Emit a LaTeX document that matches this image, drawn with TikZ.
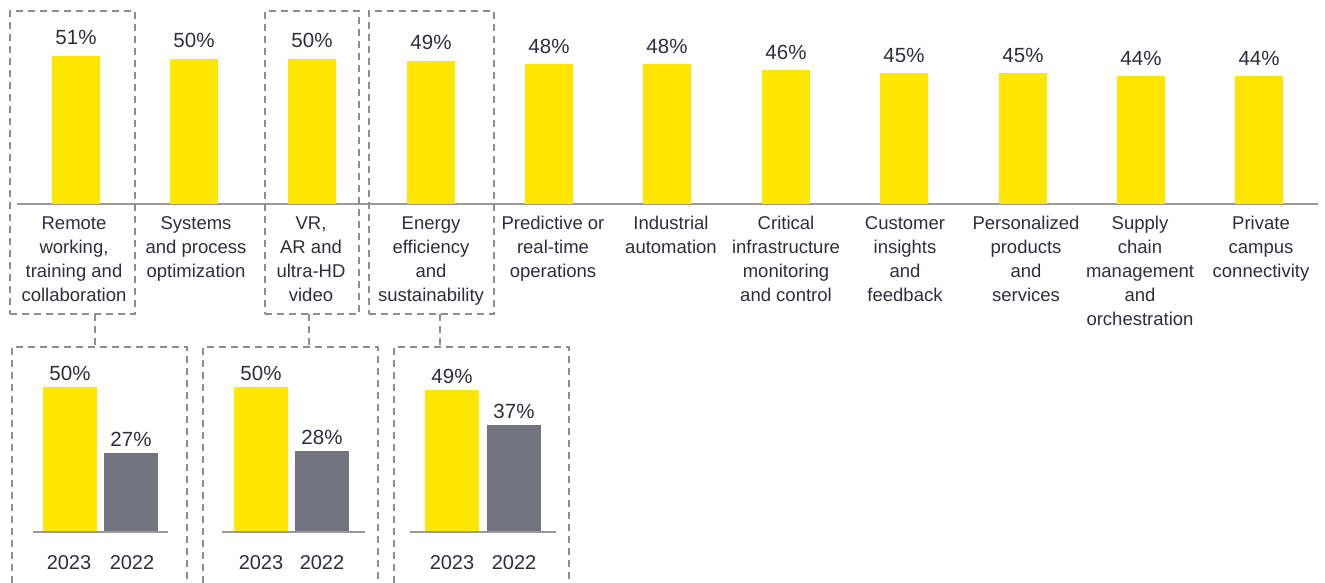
\documentclass[tikz,border=0pt]{standalone}
\usepackage{fontspec}
\setmainfont{Liberation Sans}
\definecolor{eyy}{HTML}{FFE600}
\definecolor{eyg}{HTML}{747480}
\definecolor{eyt}{HTML}{2E2E38}
\definecolor{eyl}{HTML}{9A9A9A}
\definecolor{eyd}{HTML}{8E8E8E}
\begin{document}
\begin{tikzpicture}[x=1pt,y=-1pt,
  topbar/.style={fill=eyy,draw=none,inner sep=0pt,outer sep=0pt,minimum width=48pt,anchor=south},
  ybarb/.style={fill=eyy,draw=none,inner sep=0pt,outer sep=0pt,minimum width=54pt,anchor=south},
  gbarb/.style={fill=eyg,draw=none,inner sep=0pt,outer sep=0pt,minimum width=54pt,anchor=south},
  pct/.style={font=\fontsize{20.5}{24}\selectfont,text=eyt,inner sep=0pt,anchor=base},
  cat/.style={font=\fontsize{18.5}{24}\selectfont,text=eyt,inner sep=0pt,align=center,anchor=base},
  yr/.style={font=\fontsize{20}{24}\selectfont,text=eyt,inner sep=0pt,anchor=base},
  dline/.style={draw=eyd,line width=1.3pt,dash pattern=on 7pt off 5pt},
  dbox/.style={dline,inner sep=0pt,outer sep=0pt,anchor=north west},
  gbox/.style={draw=none,inner sep=0pt,outer sep=0pt,anchor=north west},
  axis/.style={draw=eyl,line width=2pt}
]
\useasboundingbox (0,0) rectangle (1325,583);
% baseline of top chart
\coordinate (axl) at (17,204);
\coordinate (axr) at (1318,204);
\draw[axis] (axl) -- (axr);
% top bars
\node[topbar,minimum height=148pt] (b1) at (76,204) {};
\node[topbar,minimum height=145pt] (b2) at (194,204) {};
\node[topbar,minimum height=145pt] (b3) at (312,204) {};
\node[topbar,minimum height=143pt] (b4) at (431,204) {};
\node[topbar,minimum height=140pt] (b5) at (549,204) {};
\node[topbar,minimum height=140pt] (b6) at (667,204) {};
\node[topbar,minimum height=134pt] (b7) at (786,204) {};
\node[topbar,minimum height=131pt] (b8) at (904,204) {};
\node[topbar,minimum height=131pt] (b9) at (1023,204) {};
\node[topbar,minimum height=128pt] (b10) at (1141,204) {};
\node[topbar,minimum height=128pt] (b11) at (1259,204) {};
% top percentages
\node[pct] (p1) at ([yshift=11pt]b1.north) {51\%};
\node[pct] (p2) at ([yshift=11pt]b2.north) {50\%};
\node[pct] (p3) at ([yshift=11pt]b3.north) {50\%};
\node[pct] (p4) at ([yshift=11pt]b4.north) {49\%};
\node[pct] (p5) at ([yshift=10pt]b5.north) {48\%};
\node[pct] (p6) at ([yshift=10pt]b6.north) {48\%};
\node[pct] (p7) at ([yshift=10pt]b7.north) {46\%};
\node[pct] (p8) at ([yshift=10pt]b8.north) {45\%};
\node[pct] (p9) at ([yshift=10pt]b9.north) {45\%};
\node[pct] (p10) at ([yshift=10pt]b10.north) {44\%};
\node[pct] (p11) at ([yshift=10pt]b11.north) {44\%};
% category labels (anchored at the baseline of their last line)
\node[cat] (c1) at (74,301) {Remote\\working,\\training and\\collaboration};
\node[cat] (c2) at (196,277) {Systems\\and process\\optimization};
\node[cat] (c3) at (311,301) {VR,\\AR and\\ultra-HD\\video};
\node[cat] (c4) at (431,301) {Energy\\efficiency\\and\\sustainability};
\node[cat] (c5) at (553,277) {Predictive or\\real-time\\operations};
\node[cat] (c6) at (671,253) {Industrial\\automation};
\node[cat] (c7) at (786,301) {Critical\\infrastructure\\monitoring\\and control};
\node[cat] (c8) at (905,301) {Customer\\insights\\and\\feedback};
\node[cat] (c9) at (1026,301) {Personalized\\products\\and\\services};
\node[cat] (c10) at (1140,325) {Supply\\chain\\management\\and\\orchestration};
\node[cat] (c11) at (1261,277) {Private\\campus\\connectivity};
% top dashed boxes
\node[dbox,minimum width=125pt,minimum height=303pt] (t1) at (10,11) {};
\node[dbox,minimum width=94pt,minimum height=303pt] (t2) at (265,11) {};
\node[dbox,minimum width=125pt,minimum height=303pt] (t3) at (369,11) {};
% bottom boxes (open at the bottom)
\node[gbox,minimum width=175pt,minimum height=236pt] (g1) at (12,347) {};
\node[gbox,minimum width=175pt,minimum height=236pt] (g2) at (203,347) {};
\node[gbox,minimum width=175pt,minimum height=236pt] (g3) at (394,347) {};
\draw[dline] (g1.south west) -- (g1.north west) -- (g1.north east) -- (g1.south east);
\draw[dline] (g2.south west) -- (g2.north west) -- (g2.north east) -- (g2.south east);
\draw[dline] (g3.south west) -- (g3.north west) -- (g3.north east) -- (g3.south east);
% connectors
\coordinate (k1) at (95,330);
\coordinate (k2) at (309,330);
\coordinate (k3) at (440,330);
\draw[dline] (t1.south -| k1) -- (g1.north -| k1);
\draw[dline] (t2.south -| k2) -- (g2.north -| k2);
\draw[dline] (t3.south -| k3) -- (g3.north -| k3);
% bottom charts
\coordinate (a1l) at (33,532); \coordinate (a1r) at (168,532);
\coordinate (a2l) at (222,532); \coordinate (a2r) at (365,532);
\coordinate (a3l) at (410,532); \coordinate (a3r) at (556,532);
\node[ybarb,minimum height=145pt] (y1) at (70,532) {};
\node[gbarb,minimum height=79pt] (z1) at (131,532) {};
\node[ybarb,minimum height=145pt] (y2) at (261,532) {};
\node[gbarb,minimum height=81pt] (z2) at (322,532) {};
\node[ybarb,minimum height=142pt] (y3) at (452,532) {};
\node[gbarb,minimum height=107pt] (z3) at (514,532) {};
\draw[axis] (a1l) -- (a1r);
\draw[axis] (a2l) -- (a2r);
\draw[axis] (a3l) -- (a3r);
\node[pct] (q1) at ([yshift=7pt]y1.north) {50\%};
\node[pct] (r1) at ([yshift=7pt]z1.north) {27\%};
\node[pct] (q2) at ([yshift=7pt]y2.north) {50\%};
\node[pct] (r2) at ([yshift=7pt]z2.north) {28\%};
\node[pct] (q3) at ([yshift=7pt]y3.north) {49\%};
\node[pct] (r3) at ([yshift=7pt]z3.north) {37\%};
\node[yr] (v1) at (69,569) {2023};
\node[yr] (w1) at (132,569) {2022};
\node[yr] (v2) at (261,569) {2023};
\node[yr] (w2) at (322,569) {2022};
\node[yr] (v3) at (452,569) {2023};
\node[yr] (w3) at (514,569) {2022};
\end{tikzpicture}
\end{document}
